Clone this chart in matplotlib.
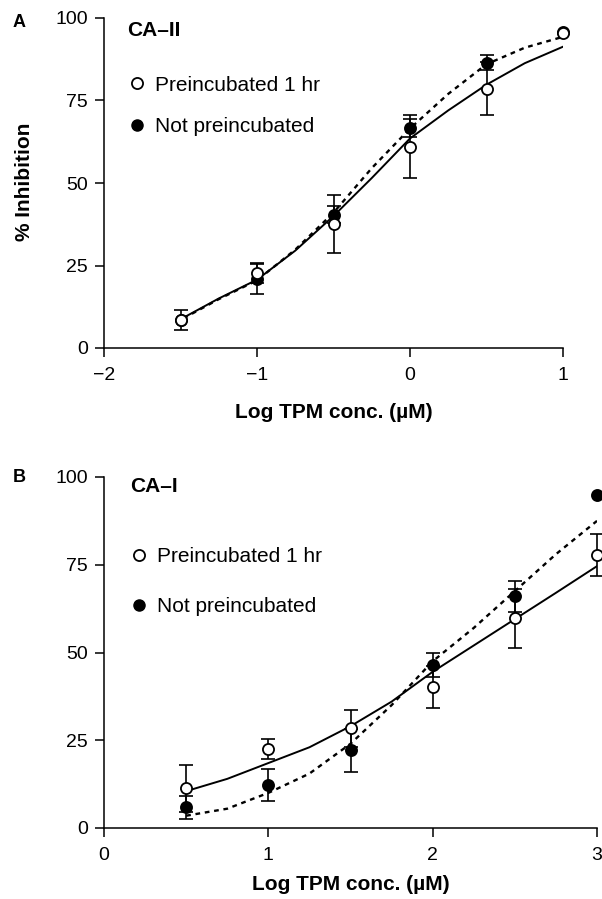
import matplotlib
matplotlib.use('Agg')
import matplotlib.pyplot as plt
import numpy as np
from matplotlib.lines import Line2D

plt.rcParams['font.family'] = ['Liberation Sans', 'DejaVu Sans']

# ---- Panel A: CA-II ----
a_x = [-1.5, -1.0, -0.5, 0.0, 0.5, 1.0]
a_pre = [8.4, 22.8, 37.6, 61.0, 78.6, 95.6]
a_pre_err = [3.0, 3.0, 8.8, 9.5, 8.0, 0.0]
a_not = [8.6, 21.0, 40.4, 66.6, 86.4, 95.8]
a_not_err = [0.0, 4.6, 2.5, 2.8, 2.3, 0.0]

a_fit_x = [-1.48, -1.25, -1.0, -0.75, -0.5, -0.25, 0.0, 0.25, 0.5, 0.75, 1.0]
a_fit_pre = [9.2, 15.0, 20.7, 29.5, 40.0, 51.5, 63.5, 72.0, 79.8, 86.3, 91.3]
a_fit_not = [9.0, 14.8, 20.5, 29.8, 41.0, 54.5, 66.5, 77.0, 86.0, 91.0, 94.3]

# ---- Panel B: CA-I ----
b_x = [0.5, 1.0, 1.5, 2.0, 2.5, 3.0]
b_pre = [11.3, 22.6, 28.4, 40.2, 59.7, 77.9]
b_pre_err = [6.7, 2.8, 5.2, 6.0, 8.5, 6.0]
b_not = [5.9, 12.2, 22.1, 46.5, 66.0, 94.8]
b_not_err = [3.3, 4.5, 6.2, 3.5, 4.5, 0.0]

b_fit_x = [0.5, 0.75, 1.0, 1.25, 1.5, 1.75, 2.0, 2.25, 2.5, 2.75, 3.0]
b_fit_pre = [10.5, 14.0, 18.5, 23.0, 29.0, 36.0, 44.5, 52.0, 59.5, 67.0, 74.6]
b_fit_not = [3.5, 5.5, 10.0, 15.5, 24.0, 35.0, 47.5, 57.0, 67.5, 78.0, 87.5]

fig = plt.figure(figsize=(6.02, 8.99), dpi=100)
axA = fig.add_axes([104 / 602, 1 - 348 / 899, 459 / 602, 330 / 899])
axB = fig.add_axes([104 / 602, 1 - 828 / 899, 493 / 602, 351 / 899])


def series(ax, x, y, err, face, z):
    x, y, err = np.array(x), np.array(y), np.array(err)
    m = err > 0
    ax.errorbar(x[m], y[m], yerr=err[m], fmt='none', ecolor='black',
                elinewidth=1.2, capsize=5, capthick=1.2, zorder=z, clip_on=False)
    ax.plot(x, y, 'o', ms=8, mfc=face, mec='black', mew=1.3, zorder=z + 0.5,
            clip_on=False)


def draw(ax, x, pre, pre_err, nt, nt_err, fx, fpre, fnot, xlim, xticks, xlabels,
         title, title_pos, letter, letter_pos, leg_y, leg_space, xpad):
    ax.plot(fx, fpre, color='black', lw=1.4, zorder=2)
    ax.plot(fx, fnot, color='black', lw=1.7, ls=(0, (2.0, 2.0)), zorder=2)
    series(ax, x, nt, nt_err, 'black', 3)
    series(ax, x, pre, pre_err, 'white', 4)
    ax.set_xlim(*xlim)
    ax.set_ylim(0, 100)
    ax.set_xticks(xticks)
    ax.set_xticklabels(xlabels)
    ax.set_yticks([0, 25, 50, 75, 100])
    for s in ['top', 'right']:
        ax.spines[s].set_visible(False)
    for s in ['left', 'bottom']:
        ax.spines[s].set_linewidth(1.1)
    ax.tick_params(direction='out', length=6.5, width=1.1, labelsize=14)
    ax.tick_params(axis='x', pad=7)
    ax.tick_params(axis='y', pad=5)
    ax.set_xlabel('Log TPM conc. (\u00b5M)', fontsize=15, fontweight='bold', labelpad=xpad)
    ax.text(title_pos[0], title_pos[1], title, transform=ax.transAxes, fontsize=15,
            fontweight='bold', va='center', ha='left')
    ax.text(letter_pos[0], letter_pos[1], letter, transform=ax.transAxes, fontsize=13,
            fontweight='bold', va='center', ha='center')
    handles = [
        Line2D([], [], ls='none', marker='o', ms=8, mfc='white', mec='black', mew=1.3),
        Line2D([], [], ls='none', marker='o', ms=8, mfc='black', mec='black'),
    ]
    ax.legend(handles, ['Preincubated 1 hr', 'Not preincubated'], loc='center left',
              bbox_to_anchor=(0.054, leg_y), frameon=False, fontsize=15,
              handlelength=0.8, handletextpad=0.45, labelspacing=leg_space,
              borderpad=0, borderaxespad=0)


draw(axA, a_x, a_pre, a_pre_err, a_not, a_not_err, a_fit_x, a_fit_pre, a_fit_not,
     (-2, 1), [-2, -1, 0, 1], ['\u22122', '\u22121', '0', '1'],
     'CA\u2013II', (0.05, 0.962), 'A', (-0.184, 0.985), 0.733, 1.09, 14)
axA.set_ylabel('% Inhibition', fontsize=15, fontweight='bold')
axA.yaxis.set_label_coords(-0.153, 0.505)

draw(axB, b_x, b_pre, b_pre_err, b_not, b_not_err, b_fit_x, b_fit_pre, b_fit_not,
     (0, 3), [0, 1, 2, 3], ['0', '1', '2', '3'],
     'CA\u2013I', (0.053, 0.974), 'B', (-0.171, 0.9986), 0.701, 1.49, 8)

fig.savefig('out.png', dpi=100)
